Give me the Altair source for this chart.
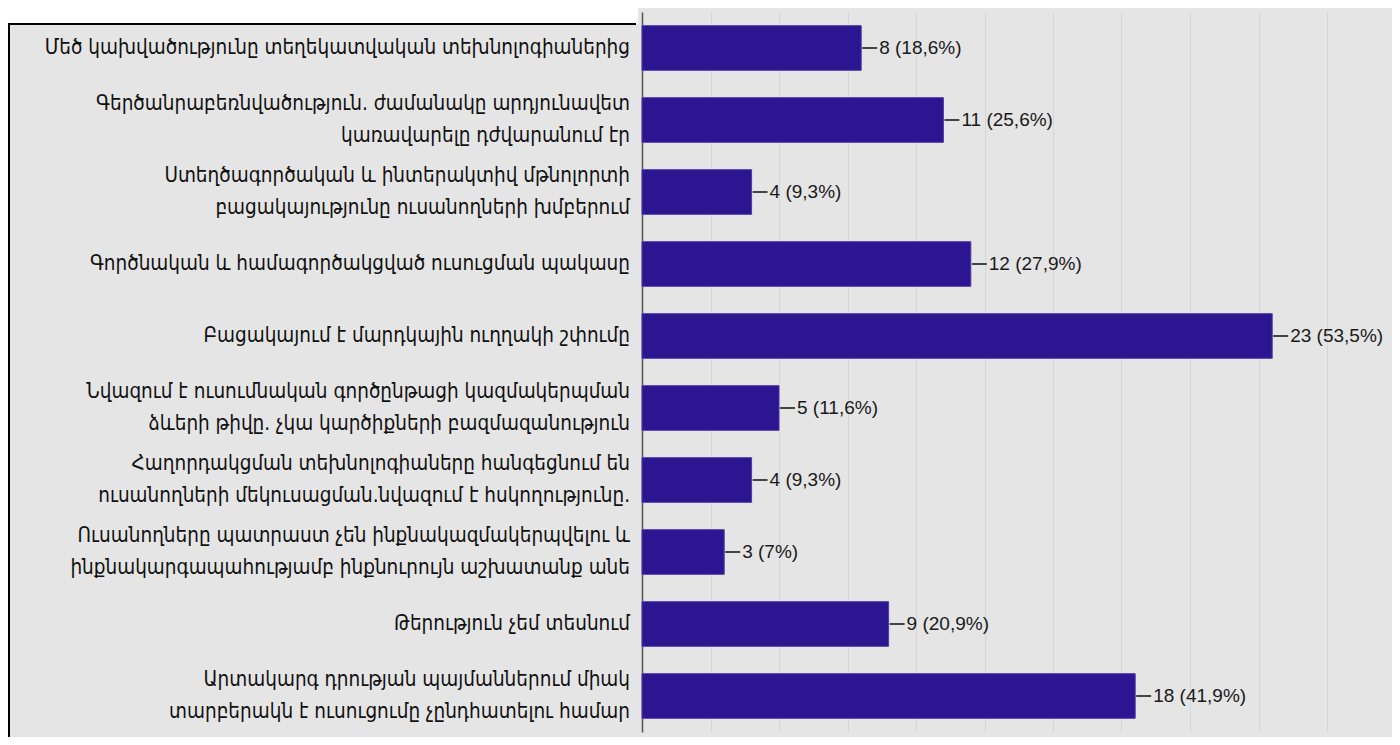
import altair as alt
import pandas as pd

categories = [
    "Մեծ կախվածությունը տեղեկատվական տեխնոլոգիաներից",
    "Գերծանրաբեռնվածություն. ժամանակը արդյունավետ\nկառավարելը դժվարանում էր",
    "Ստեղծագործական և ինտերակտիվ մթնոլորտի\nբացակայությունը ուսանողների խմբերում",
    "Գործնական և համագործակցված ուսուցման պակասը",
    "Բացակայում է մարդկային ուղղակի շփումը",
    "Նվազում է ուսումնական գործընթացի կազմակերպման\nձևերի թիվը. չկա կարծիքների բազմազանություն",
    "Հաղորդակցման տեխնոլոգիաները հանգեցնում են\nուսանողների մեկուսացման.նվազում է հսկողությունը.",
    "Ուսանողները  պատրաստ չեն ինքնակազմակերպվելու և\nինքնակարգապահությամբ ինքնուրույն աշխատանք անե",
    "Թերություն չեմ տեսնում",
    "Արտակարգ դրության պայմաններում միակ\nտարբերակն է ուսուցումը չընդհատելու համար",
]
counts = [8, 11, 4, 12, 23, 5, 4, 3, 9, 18]
percents = ["18,6%", "25,6%", "9,3%", "27,9%", "53,5%", "11,6%", "9,3%", "7%", "20,9%", "41,9%"]
grid_values = [2.5, 5, 7.5, 10, 12.5, 15, 17.5, 20, 22.5, 25]

df = pd.DataFrame({
    "idx": list(range(len(categories))),
    "label": categories,
    "nlines": [c.count("\n") + 1 for c in categories],
    "count": counts,
    "vlabel": [f"{c} ({p})" for c, p in zip(counts, percents)],
})

LABEL_FONT = "DejaVu Sans Condensed, DejaVu Sans"
VALUE_FONT = "Liberation Sans, Arial"
LINE_H = 32

y_enc = alt.Y("idx:O", sort="ascending",
              scale=alt.Scale(paddingInner=0.38, paddingOuter=0.19),
              axis=alt.Axis(labels=False, ticks=False, title=None, grid=False,
                            domain=True, domainColor="#555555", domainWidth=1.5))
y_plain = alt.Y("idx:O", sort="ascending")
x_scale = alt.Scale(domain=[0, 25], nice=False)
x_axis = alt.Axis(values=grid_values, labels=False, ticks=False, domain=False,
                  title=None, grid=True, gridColor="#d6d6d6", gridWidth=1)

base = alt.Chart(df)

bars = base.mark_bar(color="#2B1591", stroke="#4a3aa8", strokeWidth=1).encode(
    x=alt.X("count:Q", scale=x_scale, axis=x_axis),
    y=y_enc,
)

leaders = base.mark_rule(color="#444444", strokeWidth=2, xOffset=1, x2Offset=16).encode(
    x=alt.X("count:Q", scale=x_scale),
    x2=alt.X2("count:Q"),
    y=y_plain,
)

values = base.mark_text(align="left", baseline="middle", dx=18, font=VALUE_FONT,
                        fontSize=19, color="#1a1a1a").encode(
    x=alt.X("count:Q", scale=x_scale),
    y=y_plain,
    text="vlabel:N",
)

label_style = dict(align="right", baseline="middle", lineBreak="\n",
                   font=LABEL_FONT, fontSize=20.5, lineHeight=LINE_H, color="#111111")

labels_one = base.transform_filter("datum.nlines == 1").mark_text(**label_style).encode(
    x=alt.value(-12), y=y_plain, text="label:N")
labels_two = base.transform_filter("datum.nlines == 2").mark_text(
    dy=-LINE_H / 2, **label_style).encode(
    x=alt.value(-12), y=y_plain, text="label:N")

deco = alt.Chart(alt.Data(values=[{"k": 1}]))
white_strip = deco.mark_rect(color="white").encode(
    x=alt.value(-640), x2=alt.value(-4), y=alt.value(-6), y2=alt.value(12))
top_border = deco.mark_rule(color="black", strokeWidth=2).encode(
    x=alt.value(-634), x2=alt.value(-6), y=alt.value(12))
left_border = deco.mark_rule(color="black", strokeWidth=2).encode(
    x=alt.value(-633), y=alt.value(12), y2=alt.value(740))

chart = alt.layer(
    white_strip, bars, leaders, values, labels_one, labels_two, top_border, left_border
).properties(
    width=685,
    height=720,
    autosize=alt.AutoSizeParams(type="none"),
    padding={"left": 634, "top": 4, "right": 65, "bottom": 5},
    background="#e5e5e5",
).configure_view(fill="#e5e5e5", stroke=None)

chart.save("out.html", embed_options={"renderer": "svg", "actions": False})
